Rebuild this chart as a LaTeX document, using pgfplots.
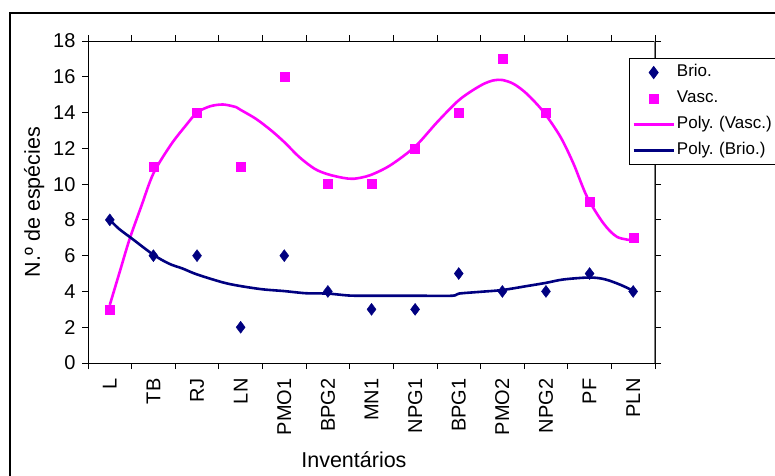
\documentclass[border=0pt]{standalone}
\usepackage{pgfplots}
\pgfplotsset{compat=1.18}
\usepackage{fontspec}
\setmainfont{Liberation Sans}
\definecolor{brio}{RGB}{0,0,128}
\definecolor{vasc}{RGB}{255,0,255}
\frenchspacing
\begin{document}
\begin{tikzpicture}
\path[use as bounding box] (0pt,0pt) rectangle (775pt,475pt);
\clip (0pt,0pt) rectangle (775pt,475pt);
% chart frame
\draw[line width=1.2pt] (10pt,-20pt) -- (10pt,462pt) -- (800pt,462pt);
\begin{axis}[
  at={(88pt,112pt)}, anchor=south west,
  scale only axis, width=567pt, height=322pt,
  xmin=-0.5, xmax=12.5, ymin=0, ymax=18,
  xtick={0,...,12},
  xticklabels={L,TB,RJ,LN,PMO1,BPG2,MN1,NPG1,BPG1,PMO2,NPG2,PF,PLN},
  minor xtick={-0.5,0.5,...,12.5},
  ytick={0,2,...,18},
  tick align=outside,
  major tick length=6pt, minor tick length=6pt,
  x tick style={draw=none},
  minor x tick style={draw=black, line width=0.8pt},
  y tick style={black, line width=0.8pt},
  axis line style={line width=0.9pt},
  xticklabel style={rotate=90, anchor=east, font=\fontsize{20}{22}\selectfont, xshift=-6pt},
  yticklabel style={font=\fontsize{20}{22}\selectfont, xshift=-3pt},
  /pgf/number format/assume math mode=true,
  xlabel={Inventários},
  ylabel={N.º de espécies},
  xlabel style={at={(axis description cs:0.469,-0.326)}, anchor=base, font=\fontsize{21.5}{24}\selectfont},
  ylabel style={at={(axis description cs:-0.0847,0.5)}, anchor=base, font=\fontsize{21.5}{24}\selectfont},
  legend image code/.code={\draw[mark repeat=2,mark phase=2,#1] plot coordinates {(0pt,0pt) (20pt,0pt) (40pt,0pt)};},
  legend style={at={(axis description cs:0.954,0.947)}, anchor=north west,
    draw=black, line width=0.9pt, inner xsep=3pt, inner ysep=5pt, row sep=8pt,
    font=\fontsize{17}{20}\selectfont,
    nodes={text width=130pt, align=left, inner xsep=2pt, text height=11pt, text depth=3pt}},
  legend cell align=left,
]
% observed values
\addplot[only marks, mark=diamond*, mark size=6pt, color=brio] coordinates {
  (0,8) (1,6) (2,6) (3,2) (4,6) (5,4) (6,3) (7,3) (8,5) (9,4) (10,4) (11,5) (12,4)};
\addlegendentry{Brio.}
\addplot[only marks, mark=square*, mark size=4.5pt, color=vasc] coordinates {
  (0,3) (1,11) (2,14) (3,11) (4,16) (5,10) (6,10) (7,12) (8,14) (9,17) (10,14) (11,9) (12,7)};
\addlegendentry{Vasc.}
% polynomial trend lines
\addplot[vasc, line width=2.6pt, smooth, no marks] coordinates {
  (0,3.25) (0.24,5.2) (0.45,6.9) (0.72,8.75) (1,10.6) (1.4,12.2) (1.75,13.3)
  (2,14.0) (2.3,14.35) (2.6,14.45) (2.9,14.3) (3,14.15) (3.35,13.65) (3.7,13.0)
  (4,12.35) (4.35,11.5) (4.7,10.85) (5,10.55) (5.35,10.35) (5.6,10.3) (5.97,10.5)
  (6.43,11.05) (7,12.1) (7.5,13.45) (7.96,14.6) (8.26,15.15) (8.57,15.6) (8.8,15.8)
  (9,15.82) (9.26,15.6) (9.56,15.05) (9.94,14.05) (10.33,12.65) (10.63,11.15)
  (10.94,9.3) (11.32,7.8) (11.63,7.05) (12,6.85)};
\addlegendentry{Poly. (Vasc.)}
\addplot[brio, line width=2.6pt, smooth, no marks] coordinates {
  (0,8.0) (0.21,7.5) (0.51,6.95) (1,6.05) (1.36,5.55) (1.67,5.28) (2,4.95)
  (2.6,4.5) (3,4.3) (3.5,4.12) (4,4.02) (4.5,3.9) (5,3.88) (5.5,3.77) (6,3.76)
  (7,3.76) (7.85,3.76) (8,3.88) (8.5,3.98) (9,4.08) (9.56,4.3) (10,4.48)
  (10.4,4.67) (11,4.78) (11.35,4.68) (11.7,4.38) (12,4.04)};
\addlegendentry{Poly. (Brio.)}
\draw[gray, line width=1.2pt] (rel axis cs:1,0) -- (rel axis cs:1,1);
\end{axis}
\end{tikzpicture}
\end{document}
